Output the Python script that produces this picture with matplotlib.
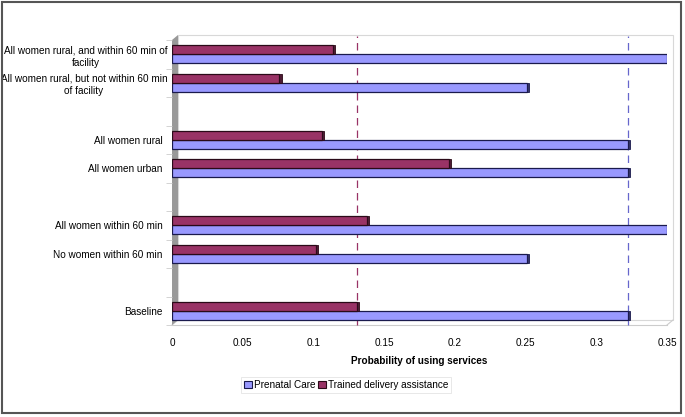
import matplotlib
matplotlib.use("Agg")
import matplotlib.pyplot as plt
from matplotlib.patches import Rectangle, Polygon
from matplotlib.lines import Line2D
from matplotlib.transforms import ScaledTranslation
import numpy as np

plt.rcParams['font.family'] = ['Liberation Sans', 'DejaVu Sans']

# Categories from bottom to top; None = empty slot
categories = ["Baseline", None, "No women within 60 min", "All women within 60 min", None,
              "All women urban", "All women rural", None,
              "All women rural, but not within 60 min\nof facility",
              "All women rural, and within 60 min of\nfacility"]
prenatal = [0.3225, None, 0.251, 0.35, None, 0.3225, 0.3225, None, 0.251, 0.35]
delivery = [0.131, None, 0.102, 0.138, None, 0.196, 0.106, None, 0.076, 0.114]
ref_delivery = 0.131
ref_prenatal = 0.3225
xticks = [0, 0.05, 0.1, 0.15, 0.2, 0.25, 0.3, 0.35]
xticklabels = ["0", "0.05", "0.1", "0.15", "0.2", "0.25", "0.3", "0.35"]

BLUE = "#9999FF"
PURPLE = "#993366"
FS = 7.2

W, H = 685, 417
fig = plt.figure(figsize=(W / 100, H / 100), dpi=100)
L, R, T, B = 172, 667, 40, 325
ax = fig.add_axes([L / W, 1 - B / H, (R - L) / W, (B - T) / H])
ax.set_xlim(0, 0.35)
ax.set_ylim(-0.5, 9.5)
ax.patch.set_alpha(0)

# 3D decor: back wall, left wall, floor (figure pixel coords)
dx, dy = 6, 5
def fp(x, y):
    return (x / W, 1 - y / H)
back = Rectangle(fp(L + dx, B - dy), (R - L) / W, (B - T) / H, transform=fig.transFigure,
                 fill=False, edgecolor="#d8d8d8", lw=0.8, zorder=-2)
fig.patches.append(back)
wall = Polygon([fp(L, T), fp(L + dx, T - dy), fp(L + dx, B - dy), fp(L, B)],
               closed=True, transform=fig.transFigure, facecolor="#999999", edgecolor="none",
               zorder=-1)
fig.patches.append(wall)
for (x0, y0, x1, y1) in [(L, B, L + dx, B - dy), (R, B, R + dx, B - dy), (L, B, R, B)]:
    fig.lines.append(Line2D([x0 / W, x1 / W], [1 - y0 / H, 1 - y1 / H], transform=fig.transFigure,
                            color="#cccccc", lw=0.8, zorder=-1))

h = 0.32
ys = np.arange(len(categories))
for y, p, d in zip(ys, prenatal, delivery):
    if p is None:
        continue
    ax.barh(y - h / 2, p, height=h, color=BLUE, edgecolor="#1a1a4d", lw=0.9, zorder=3)
    ax.barh(y + h / 2, d, height=h, color=PURPLE, edgecolor="#2a0a18", lw=0.9, zorder=3)
    # 3D end caps
    ax.barh(y - h / 2, 0.0015, left=p, height=h, color="#333366", edgecolor="#1a1a4d", lw=0.6, zorder=3)
    ax.barh(y + h / 2, 0.0015, left=d, height=h, color="#4d1a33", edgecolor="#2a0a18", lw=0.6, zorder=3)

ax.axvline(ref_delivery, ymax=1.015, clip_on=False, color=PURPLE, ls=(0, (6, 4)), lw=0.9, zorder=2)
ax.axvline(ref_prenatal, ymax=1.015, clip_on=False, color="#6666CC", ls=(0, (6, 4)), lw=0.9, zorder=2)

for s in ax.spines.values():
    s.set_visible(False)

ax.set_yticks([y for y, c in zip(ys, categories) if c is not None])
ax.set_yticklabels([c for c in categories if c is not None], fontsize=FS,
                   multialignment="center", linespacing=1.3)
ax.tick_params(axis="y", length=0, pad=7)
for lab in ax.get_yticklabels():
    if "\n" in lab.get_text():
        lab.set_transform(lab.get_transform() + ScaledTranslation(5 / 100, 0, fig.dpi_scale_trans))
ax.set_yticks(np.arange(-0.5, 10, 1), minor=True)
ax.tick_params(axis="y", which="minor", length=4, color="#cccccc")
ax.set_xticks(xticks)
ax.set_xticklabels(xticklabels, fontsize=FS)
ax.tick_params(axis="x", length=0, pad=9)
ax.set_xlabel("Probability of using services", fontsize=FS, fontweight="bold", labelpad=6)

handles = [Rectangle((0, 0), 1, 1, facecolor=BLUE, edgecolor="#1a1a4d", lw=0.8),
           Rectangle((0, 0), 1, 1, facecolor=PURPLE, edgecolor="#2a0a18", lw=0.8)]
leg = fig.legend(handles, ["Prenatal Care", "Trained delivery assistance"], loc="center",
                 bbox_to_anchor=(346 / W, 1 - 385 / H), ncol=2, fontsize=FS, frameon=True,
                 fancybox=False, edgecolor="#dddddd", handlelength=0.8, handleheight=0.8,
                 handletextpad=0.2, columnspacing=0.3, borderpad=0.3, borderaxespad=0)
leg.get_frame().set_linewidth(0.6)

border = Rectangle((2 / W, 1 - 413 / H), 679 / W, 411 / H, transform=fig.transFigure,
                   fill=False, edgecolor="#555555", lw=1.5)
fig.patches.append(border)

fig.savefig("out.png", dpi=100)
